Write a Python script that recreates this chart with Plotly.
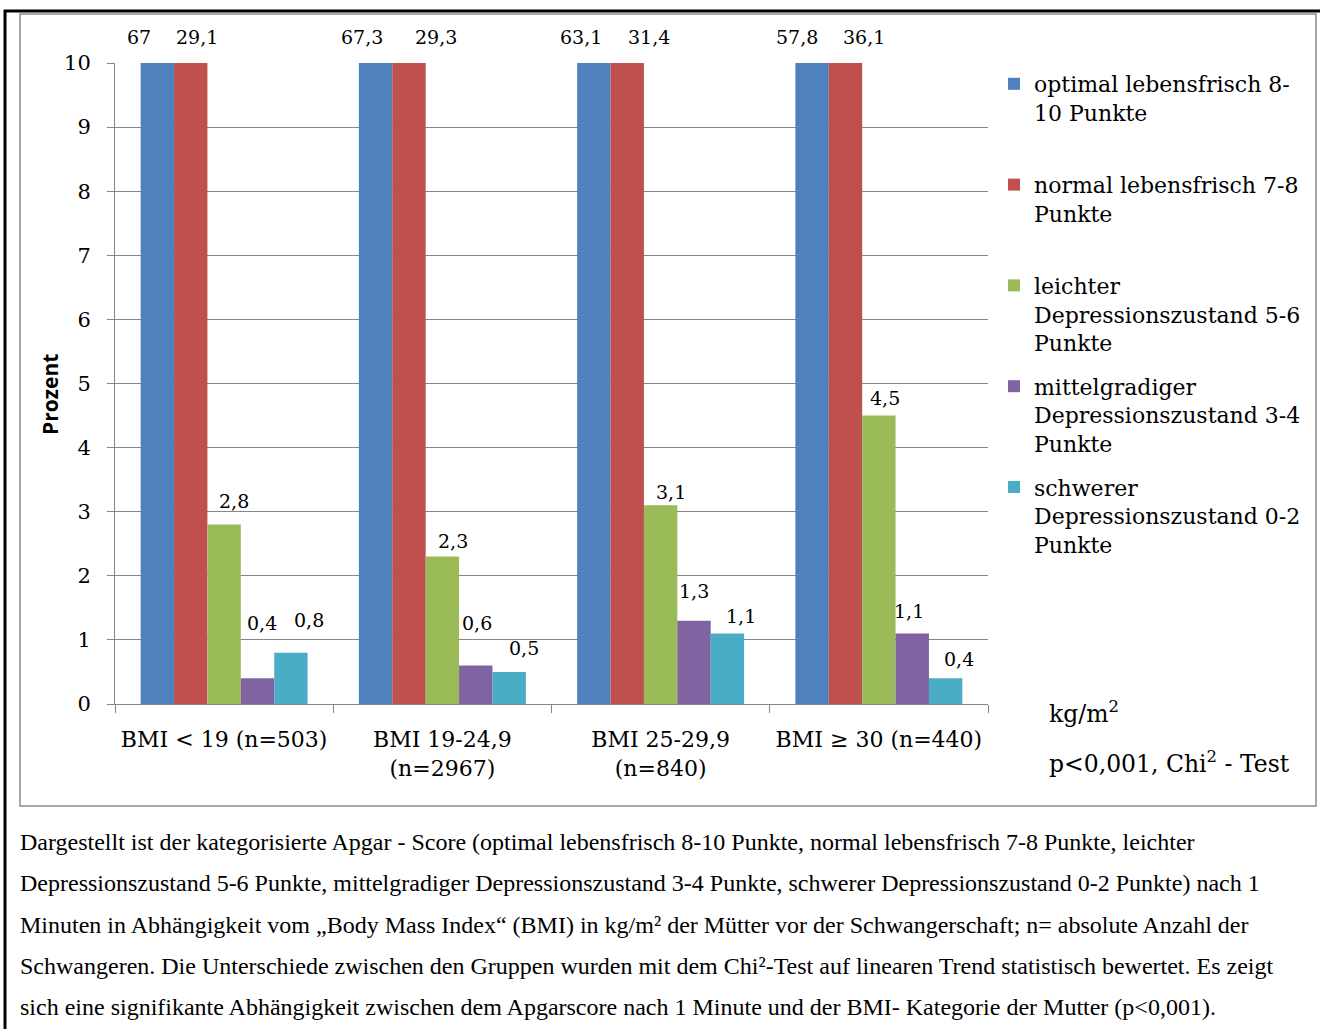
import plotly.graph_objects as go

# ---- data -------------------------------------------------------------
categories = ["BMI < 19 (n=503)", "BMI 19-24,9<br>(n=2967)",
              "BMI 25-29,9<br>(n=840)", "BMI ≥ 30 (n=440)"]
series_names = [
    "optimal lebensfrisch 8-<br>10 Punkte<br>&nbsp;",
    "normal lebensfrisch 7-8<br>Punkte<br>&nbsp;",
    "leichter<br>Depressionszustand 5-6<br>Punkte",
    "mittelgradiger<br>Depressionszustand 3-4<br>Punkte",
    "schwerer<br>Depressionszustand 0-2<br>Punkte",
]
optimal = [67, 67.3, 63.1, 57.8]
normal = [29.1, 29.3, 31.4, 36.1]
leicht = [2.8, 2.3, 3.1, 4.5]
mittel = [0.4, 0.6, 1.3, 1.1]
schwer = [0.8, 0.5, 1.1, 0.4]
series_values = [optimal, normal, leicht, mittel, schwer]
colors = ["#4F81BD", "#C0504D", "#9BBB59", "#8064A2", "#4BACC6"]

# label nudges (pixels) relative to the bar centre / bar top
label_dx = [[-18, -14, -13, -15], [6, 27, 22, 19], [10, 11, 10, 6],
            [4, 1, 0, -3], [18, 15, 14, 13]]
label_dy = [[26, 26, 26, 26], [26, 26, 26, 26], [24, 16, 13, 18],
            [55, 43, 30, 22], [33, 24, 17, 19]]

Y_MAX = 10
BARGAP = 0.235

# ---- geometry helpers -------------------------------------------------
FIG_W, FIG_H = 1320, 1029
L, R, T, B = 115, 332, 63, 325
PW, PH = FIG_W - L - R, FIG_H - T - B


def px_x(px):
    return (px - L) / PW


def px_y(py):
    return (FIG_H - B - py) / PH


SERIF = "DejaVu Serif"
fig = go.Figure()

for i, (name, vals, col) in enumerate(zip(series_names, series_values, colors)):
    fig.add_trace(go.Bar(
        x=categories, y=vals, name=name,
        marker=dict(color=col, line=dict(width=0)),
        legendgroup=str(i), cliponaxis=True,
        hoverinfo="skip",
    ))

# value labels (bars above the axis limit are labelled at the top edge)
n = len(series_values)
bw = (1 - BARGAP) / n
for i, vals in enumerate(series_values):
    for j, v in enumerate(vals):
        xc = j - (1 - BARGAP) / 2 + bw * (i + 0.5)
        fig.add_annotation(
            x=xc, y=min(v, Y_MAX), xref="x", yref="y",
            text=f"{v:g}".replace(".", ","), showarrow=False,
            xshift=label_dx[i][j], yshift=label_dy[i][j],
            yanchor="middle", xanchor="center",
            font=dict(family=SERIF, size=19, color="#000000"),
        )

# axis title
fig.add_annotation(
    x=px_x(50), y=px_y(395), xref="paper", yref="paper",
    text="<b>Prozent</b>", textangle=-90, showarrow=False,
    xanchor="center", yanchor="middle",
    font=dict(family="Open Sans", size=21, color="#000000"),
)

# notes bottom right
fig.add_annotation(x=px_x(1047), y=px_y(713), xref="paper", yref="paper",
                   text="kg/m<sup>2</sup>", showarrow=False, xanchor="left",
                   yanchor="middle",
                   font=dict(family=SERIF, size=23.5, color="#000000"))
fig.add_annotation(x=px_x(1047), y=px_y(762), xref="paper", yref="paper",
                   text="p<0,001, Chi<sup>2</sup> - Test", showarrow=False,
                   xanchor="left", yanchor="middle",
                   font=dict(family=SERIF, size=23.5, color="#000000"))

# caption
caption_lines = [
    "Dargestellt ist der kategorisierte Apgar - Score (optimal lebensfrisch 8-10 Punkte, normal lebensfrisch 7-8 Punkte, leichter",
    "Depressionszustand 5-6 Punkte, mittelgradiger Depressionszustand 3-4 Punkte, schwerer Depressionszustand 0-2 Punkte) nach 1",
    "Minuten in Abhängigkeit vom „Body Mass Index“ (BMI) in kg/m² der Mütter vor der Schwangerschaft; n= absolute Anzahl der",
    "Schwangeren. Die Unterschiede zwischen den Gruppen wurden mit dem Chi²-Test auf linearen Trend statistisch bewertet. Es zeigt",
    "sich eine signifikante Abhängigkeit zwischen dem Apgarscore nach 1 Minute und der BMI- Kategorie der Mutter (p<0,001).",
]
for k, line in enumerate(caption_lines):
    fig.add_annotation(x=px_x(18), y=px_y(842 + 41.3 * k), xref="paper", yref="paper",
                       text=line, showarrow=False, xanchor="left", yanchor="middle",
                       font=dict(family="Liberation Serif", size=24, color="#000000"))

# frames: outer black page rule and grey chart border
fig.add_shape(type="rect", xref="paper", yref="paper",
              x0=px_x(20), x1=px_x(1316), y0=px_y(806), y1=px_y(14),
              line=dict(color="#8C8C8C", width=1.5), layer="below")
fig.add_shape(type="line", xref="paper", yref="paper",
              x0=px_x(4), x1=px_x(1322), y0=px_y(11), y1=px_y(11),
              line=dict(color="#000000", width=3))
fig.add_shape(type="line", xref="paper", yref="paper",
              x0=px_x(5), x1=px_x(5), y0=px_y(10), y1=px_y(1032),
              line=dict(color="#000000", width=3))

fig.update_layout(
    width=FIG_W, height=FIG_H,
    margin=dict(l=L, r=R, t=T, b=B, pad=0),
    paper_bgcolor="#FFFFFF", plot_bgcolor="#FFFFFF",
    barmode="group", bargap=BARGAP, bargroupgap=0,
    font=dict(family=SERIF, size=22, color="#000000"),
    showlegend=True,
    legend=dict(
        x=px_x(994), y=px_y(63), xanchor="left", yanchor="top",
        font=dict(family=SERIF, size=22, color="#000000"),
        valign="top", tracegroupgap=12, traceorder="grouped",
        bgcolor="rgba(0,0,0,0)", borderwidth=0,
        itemclick=False, itemdoubleclick=False,
    ),
)
fig.update_xaxes(
    type="category", showgrid=False, showline=True, linecolor="#868686",
    linewidth=1, ticks="outside", tickson="boundaries", ticklen=8,
    tickcolor="#868686", tickfont=dict(family=SERIF, size=22, color="#000000"),
    ticklabelstandoff=16, zeroline=False,
)
fig.update_yaxes(
    range=[0, Y_MAX], dtick=1, showgrid=True, gridcolor="#868686", gridwidth=1,
    showline=True, linecolor="#868686", linewidth=1, ticks="outside",
    ticklen=7, tickcolor="#868686", zeroline=False,
    tickfont=dict(family=SERIF, size=21, color="#000000"),
    ticklabelstandoff=12,
)

fig.write_html("out.html")
